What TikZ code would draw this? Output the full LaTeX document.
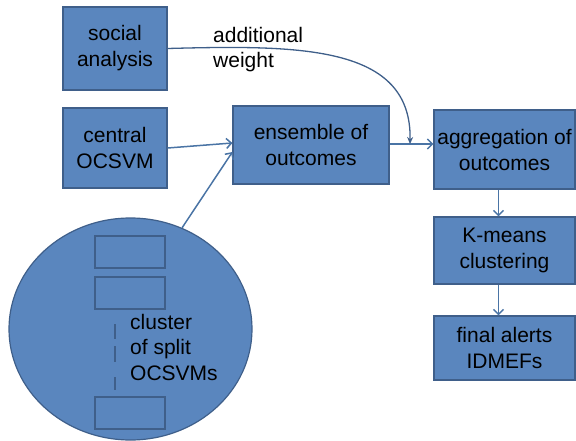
\documentclass[tikz,border=0pt]{standalone}
\usepackage{fontspec}
\setmainfont{Liberation Sans}
\usetikzlibrary{arrows.meta,shapes.geometric,calc}
\definecolor{boxfill}{HTML}{5A86BE}
\definecolor{boxline}{HTML}{3F5F8A}
\definecolor{arr}{HTML}{4A74A5}
\tikzset{
  box/.style={draw=boxline,fill=boxfill,line width=1.2pt,inner sep=0pt,align=center,
    font=\fontsize{21}{26}\selectfont},
  smallbox/.style={draw=boxline,line width=1.2pt,inner sep=0pt,minimum width=70pt,minimum height=32pt},
  flow/.style={draw=arr,line width=1.5pt,-{Straight Barb[length=5pt,width=10pt,line width=1.5pt]}},
  curvy/.style={draw=boxline,line width=1.3pt,-{Stealth[length=7pt,width=6pt]}},
  lbl/.style={inner sep=0pt,align=left,font=\fontsize{21}{25.5}\selectfont}
}
\begin{document}
\begin{tikzpicture}[x=1pt,y=-1pt]
\useasboundingbox (0,0) rectangle (576,441);
% boxes
\node[box,minimum width=104pt,minimum height=83pt] (soc) at (115,48.5) {social\\analysis};
\node[box,minimum width=104pt,minimum height=80pt] (cen) at (115,148) {central\\OCSVM};
\node[box,minimum width=156pt,minimum height=78pt] (ens) at (311,145) {ensemble of\\outcomes};
\node[box,minimum width=141pt,minimum height=79pt] (agg) at (504.5,149.5) {aggregation of\\outcomes};
\node[box,minimum width=141pt,minimum height=67pt] (km) at (504.5,250.5) {K-means\\clustering};
\node[box,minimum width=141pt,minimum height=64pt] (fin) at (504.5,348) {final alerts\\IDMEFs};
% cluster ellipse
\node[ellipse,draw=boxline,fill=boxfill,line width=1.2pt,minimum width=243pt,minimum height=222pt,inner sep=0pt] (cl) at (130.5,329) {};
\node[smallbox] (r1) at (130,252) {};
\node[smallbox] (r2) at (130,293) {};
\node[smallbox] (r3) at (130,413) {};
\draw[boxline,line width=1.2pt] (115,324) -- (115,339) (115,346) -- (115,362) (115,377) -- (115,390);
\node[lbl,anchor=north west] (cltxt) at (130,314) {cluster\\of split\\OCSVMs};
% label
\node[lbl,anchor=north west] (aw) at (213,27) {additional\\weight};
% connectors
\draw[flow] (cen.east) -- ([yshift=2pt]ens.west);
\draw[flow] (cl.63) -- ([yshift=-7pt]ens.west);
\coordinate (ee) at ([yshift=1pt]ens.east);
\draw[flow] (ee) -- (ee -| agg.west);
\coordinate (mid) at (410,144);
\draw[curvy] (soc.east) .. controls (300,45) and (412,45) .. (mid);
\draw[flow] ([xshift=-6pt]agg.south) -- ([xshift=-6pt]km.north);
\draw[flow] ([xshift=-6pt]km.south) -- ([xshift=-6pt]fin.north);
\end{tikzpicture}
\end{document}
